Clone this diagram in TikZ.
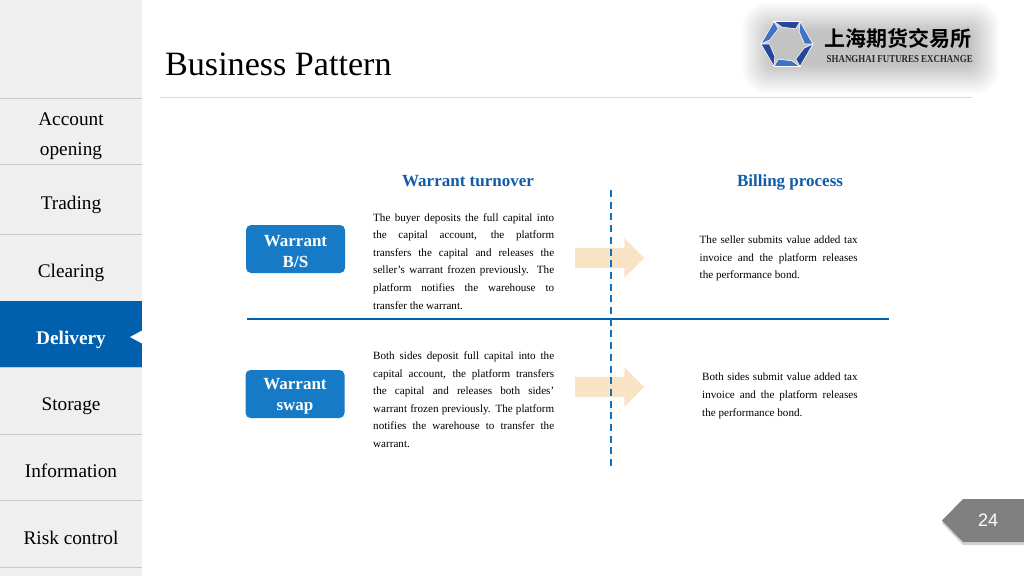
\documentclass[tikz,border=0pt]{standalone}
\usepackage{fontspec}
\setmainfont{Liberation Serif}
\newfontfamily\cjkfont{Noto Sans CJK SC}[BoldFont={* Bold}]
\newfontfamily\numfont{Liberation Sans}
\usetikzlibrary{shapes.arrows}
\definecolor{sidegray}{HTML}{EFEFEF}
\definecolor{sideline}{HTML}{C9C9C9}
\definecolor{deliveryblue}{HTML}{0060AE}
\definecolor{boxblue}{HTML}{167AC6}
\definecolor{headblue}{HTML}{0F5CAB}
\definecolor{arrowtan}{HTML}{F8E4C4}
\definecolor{logodark}{HTML}{27479B}
\definecolor{logolight}{HTML}{3F74C4}
\tikzset{
  sideitem/.style={font=\fontsize{19.3}{30}\selectfont,align=center,text=black},
  warrantbox/.style={shape=rectangle,rounded corners=5pt,fill=boxblue,text=white,minimum width=99pt,minimum height=48pt,align=center,font=\fontsize{17}{21}\selectfont\bfseries},
  heading/.style={font=\fontsize{17}{18}\selectfont\bfseries,text=headblue},
  bodytext/.style={font=\fontsize{11.1}{17.6}\selectfont,align=justify,inner sep=0pt,anchor=north west},
  flowarrow/.style={shape=single arrow,fill=arrowtan,minimum width=39pt,minimum height=69pt,single arrow head extend=9.5pt,inner xsep=0pt,inner ysep=10pt,single arrow tip angle=90}
}
\begin{document}
\begin{tikzpicture}[x=1pt,y=-1pt]
    \useasboundingbox (0,0) rectangle (1024,576);
    % side bar
    \fill[sidegray] (0,0) rectangle (142,576);
    \foreach \ypos in {98,164,234,367,434,500,567}
        \draw[sideline,line width=1pt] (0,\ypos) -- (142,\ypos);
    \fill[deliveryblue] (0,301) rectangle (142,367);
    \fill[white] (130,337) -- (142,330.5) -- (142,343.5) -- cycle;
    \node[sideitem] (account) at (71,136) {Account\\opening};
    \node[sideitem] (trading) at (71,204.5) {Trading};
    \node[sideitem] (clearing) at (71,272.5) {Clearing};
    \node[sideitem,text=white,font=\fontsize{19.3}{30}\selectfont\bfseries] (delivery) at (71,339.5) {Delivery};
    \node[sideitem] (storage) at (71,406) {Storage};
    \node[sideitem] (information) at (71,470.5) {Information};
    \node[sideitem] (riskcontrol) at (71,537.5) {Risk control};
    % title
    \node[anchor=west,inner sep=0pt,font=\fontsize{34.1}{36}\selectfont] (title) at (165,64) {Business Pattern};
    \draw[black!15,line width=.8pt] (160,97) -- (972,97);
    % logo
    \foreach \i in {0,...,29}
        \fill[black,opacity=.008,rounded corners={(40-\i)*.6pt}] (742+\i,2+\i) rectangle (1000-\i,94-\i);
    \foreach \ang/\col in {0/logodark,60/logolight,120/logodark,180/logolight,240/logodark,300/logolight}
        \fill[\col,draw=white,line width=.6pt,shift={(787,44)}] (\ang:26) -- (\ang+60:26) -- (\ang+60:17.5) -- (\ang+14:17.5) -- cycle;
    \node[anchor=west,inner sep=0pt,font=\cjkfont\bfseries\fontsize{21}{23}\selectfont] (logocn) at (824,38) {上海期货交易所};
    \node[anchor=west,inner sep=0pt,font=\bfseries,text=black!85] (logoen) at (826.5,59.5) {\resizebox{146pt}{7pt}{SHANGHAI FUTURES EXCHANGE}};
    % headings
    \node[heading] (turnover) at (468,181) {Warrant turnover};
    \node[heading] (billing) at (790,182) {Billing process};
    % arrows under the rules
    \node[flowarrow] (arrowbs) at (604.5,258) {};
    \node[flowarrow] (arrowswap) at (604.5,387) {};
    % rules
    \coordinate (rulewest) at (247,319);
    \coordinate (ruleeast) at (889,319);
    \coordinate (dashtop) at (611,190);
    \coordinate (dashbottom) at (611,466);
    \draw[deliveryblue,line width=2.2pt] (rulewest) -- (ruleeast);
    \draw[boxblue!70!deliveryblue,line width=1.9pt,dash pattern=on 7pt off 4.7pt] (dashtop) -- (dashbottom);
    % warrant rows
    \node[warrantbox] (warrantbs) at (295.5,249) {\rule{0pt}{16pt}Warrant\\B/S};
    \node[warrantbox] (warrantswap) at (295,394) {\rule{0pt}{16pt}Warrant\\swap};
    \node[bodytext,text width=181pt] (textbs) at (373,213) {The buyer deposits the full capital into\linebreak the capital account, the platform\linebreak transfers the capital and releases the\linebreak seller’s warrant frozen previously. The\linebreak platform notifies the warehouse to\linebreak transfer the warrant.};
    \node[bodytext,text width=181pt] (textswap) at (373,351.5) {Both sides deposit full capital into the\linebreak capital account, the platform transfers\linebreak the capital and releases both sides’\linebreak warrant frozen previously. The platform\linebreak notifies the warehouse to transfer the\linebreak warrant.};
    \node[bodytext,text width=158pt] (billbs) at (699.5,235.5) {The seller submits value added tax\linebreak invoice and the platform releases\linebreak the performance bond.};
    \node[bodytext,text width=155.5pt] (billswap) at (702,373) {Both sides submit value added tax\linebreak invoice and the platform releases\linebreak the performance bond.};
    % page tag
    \fill[black!18] (942,523) -- (963,545) -- (1024,545) -- (1024,502) -- (963,502) -- cycle;
    \fill[black!50] (942,520.5) -- (963,499) -- (1024,499) -- (1024,542) -- (963,542) -- cycle;
    \node[text=white,font=\numfont\fontsize{18}{20}\selectfont] (pagenum) at (988,520.5) {24};
\end{tikzpicture}
\end{document}
